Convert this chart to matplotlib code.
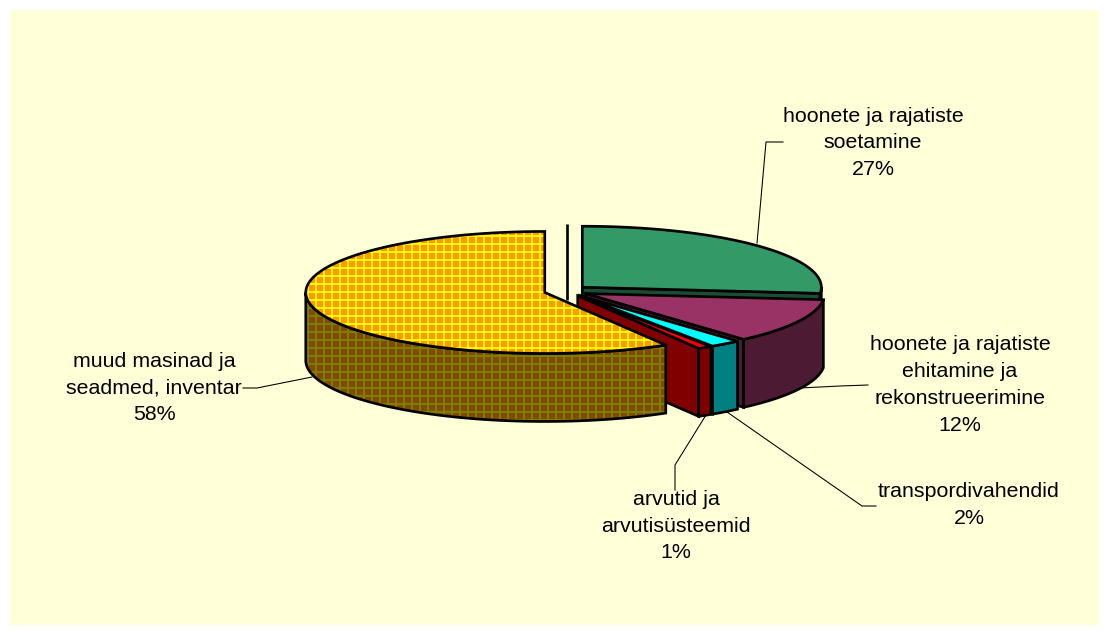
import numpy as np
import matplotlib
matplotlib.use('Agg')
import matplotlib.pyplot as plt
from matplotlib.patches import Polygon, Rectangle

plt.rcParams['font.family'] = ['Liberation Sans', 'DejaVu Sans']

# slices, clockwise from 12 o'clock
names = ['hoonete ja rajatiste\nsoetamine',
         'hoonete ja rajatiste\nehitamine ja\nrekonstrueerimine',
         'transpordivahendid',
         'arvutid ja\narvutisüsteemid',
         'muud masinad ja\nseadmed, inventar']
values = [26.6, 11.9, 2.1, 0.95, 58.45]
top_colors = ['#339966', '#993366', '#00FFFF', '#FF0000', '#FF9900']
side_colors = ['#1A4D33', '#4D1A33', '#008080', '#800000', '#804D00']
hatch_colors = [None, None, None, None, '#FFFF00']
side_hatch_colors = [None, None, None, None, '#808000']

# layout, in pixels of the 1109x635 image
cx0, cy0 = 566, 291
rx, ry = 239, 61
depth = 68
explode = 22
label_xy = [(873, 143), (960, 385), (969, 505), (676, 526), (154, 388)]
leaders = [[(783, 142), (766, 142), (757, 243)],
           [(868, 385), (840, 386), (800, 388)],
           [(876, 506), (862, 506), (727, 412)],
           [(675, 490), (675, 465), (706, 415)],
           [(243, 388), (257, 388), (312, 377)]]

fig = plt.figure(figsize=(1109 / 96, 635 / 96), dpi=96, facecolor='white')
ax = fig.add_axes([0, 0, 1, 1])
ax.set_xlim(0, 1109)
ax.set_ylim(635, 0)
ax.axis('off')
plt.rcParams['hatch.linewidth'] = 1.4

ax.add_patch(Rectangle((10, 10), 1089, 615, fc='#FFFFD8', ec='none'))


def pt(cx, cy, t):
    return np.column_stack([cx + rx * np.sin(t), cy - ry * np.cos(t)])


def face(xy, color, hatch_color):
    if hatch_color:
        ax.add_patch(Polygon(xy, fc=color, ec=hatch_color, hatch='++', lw=0))
        ax.add_patch(Polygon(xy, fc='none', ec='black', lw=2, joinstyle='miter'))
    else:
        ax.add_patch(Polygon(xy, fc=color, ec='black', lw=2, joinstyle='miter'))


# the upright stroke behind the gap
ax.plot([cx0 + 1, cx0 + 1], [cy0 - 67, cy0 + 9], color='black', lw=2, solid_capstyle='butt')

edges = np.cumsum([0] + values) / sum(values) * 2 * np.pi
for i in range(len(values)):
    t0, t1 = edges[i], edges[i + 1]
    mid = (t0 + t1) / 2
    cx = cx0 + explode * np.sin(mid)
    cy = cy0 - explode * ry / rx * np.cos(mid)
    # cut face on the clockwise end, it looks towards the viewer for the first slices
    if i < len(values) - 1:
        end = pt(cx, cy, np.array([t1]))[0]
        cut = [(cx, cy), tuple(end), (end[0], end[1] + depth), (cx, cy + depth)]
        face(cut, side_colors[i], None)
    # rim, only the near half of the ellipse shows
    a, b = max(t0, np.pi / 2), min(t1, 3 * np.pi / 2)
    if b > a:
        arc = pt(cx, cy, np.linspace(a, b, 120))
        rim = np.vstack([arc, (arc + [0, depth])[::-1]])
        face(rim, side_colors[i], side_hatch_colors[i])
    # top
    arc = pt(cx, cy, np.linspace(t0, t1, 240))
    top = np.vstack([[cx, cy], arc])
    face(top, top_colors[i], hatch_colors[i])

for name, value, (x, y), line in zip(names, values, label_xy, leaders):
    lx, ly = zip(*line)
    ax.plot(lx, ly, color='black', lw=0.8)
    ax.text(x, y, '%s\n%d%%' % (name, int(value + 0.5)), ha='center', va='center',
            fontsize=16, linespacing=1.52, color='black')

fig.savefig('out.png', dpi=96)
